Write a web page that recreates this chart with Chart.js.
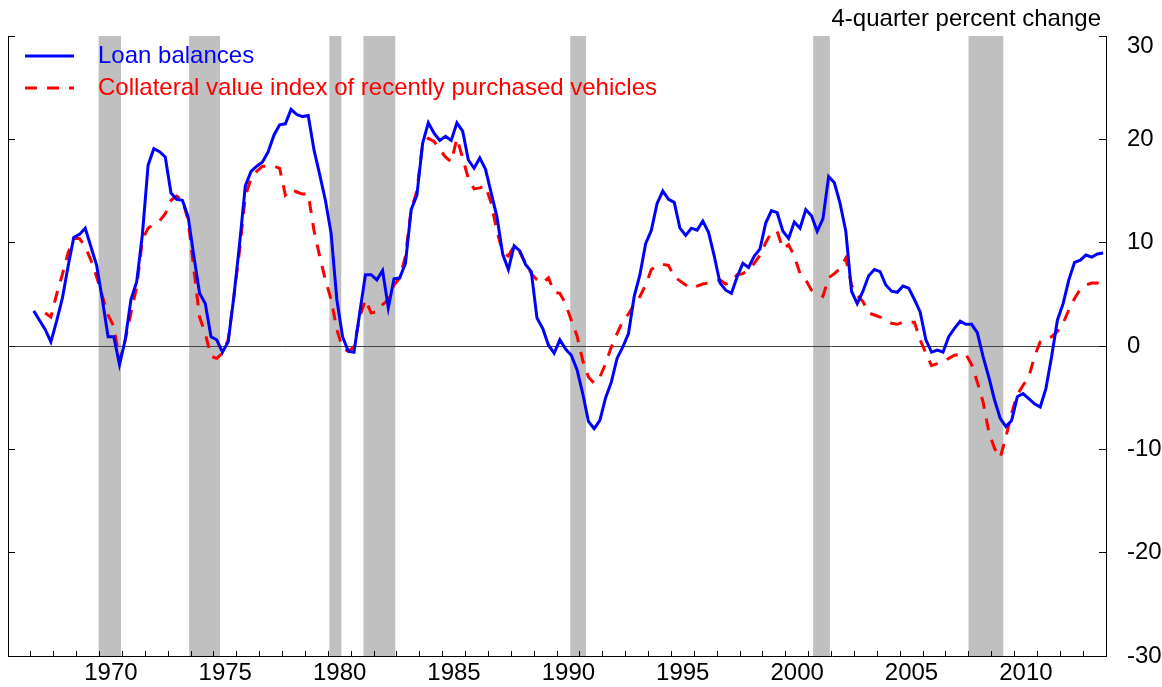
<!DOCTYPE html>
<html>
<head>
<meta charset="utf-8">
<title>Loan balances and collateral value</title>
<script src="https://cdn.jsdelivr.net/npm/chart.js@4/dist/chart.umd.min.js"></script>
<style>
  html, body { margin: 0; padding: 0; background: #fff; }
  #wrap { width: 1162px; height: 687px; }
</style>
</head>
<body>
<div id="wrap"><canvas id="chart" width="1162" height="687"></canvas></div>
<script>
'use strict';

// quarterly data, 1967Q1 - 2013Q4
var firstYear = 1967;

var loanBalances = [
    3.4, 2.5, 1.6, 0.4,      // 1967
    2.4, 4.6, 7.7, 10.5,     // 1968
    10.8, 11.4, 9.6, 7.8,    // 1969
    4.5, 0.9, 0.9, -1.8,     // 1970
    0.6, 4.5, 6.2, 10.8,     // 1971
    17.5, 19.1, 18.8, 18.3,  // 1972
    14.8, 14.2, 14.1, 12.5,  // 1973
    8.7, 5.1, 4.1, 0.9,      // 1974
    0.6, -0.6, 0.4, 4.8,     // 1975
    9.9, 15.5, 16.9, 17.4,   // 1976
    17.8, 18.8, 20.4, 21.4,  // 1977
    21.5, 22.9, 22.4, 22.2,  // 1978
    22.3, 19.0, 16.6, 14.1,  // 1979
    10.9, 4.5, 0.9, -0.5,    // 1980
    -0.6, 3.2, 6.9, 6.9,     // 1981
    6.4, 7.3, 3.7, 6.5,      // 1982
    6.6, 8.0, 13.2, 14.6,    // 1983
    19.6, 21.6, 20.6, 19.9,  // 1984
    20.3, 19.9, 21.6, 20.8,  // 1985
    18.0, 17.2, 18.2, 17.1,  // 1986
    14.8, 12.5, 8.9, 7.4,    // 1987
    9.7, 9.2, 7.9, 7.2,      // 1988
    2.7, 1.7, 0.1, -0.7,     // 1989
    0.6, -0.3, -0.9, -2.3,   // 1990
    -4.6, -7.3, -8.0, -7.2,  // 1991
    -5.0, -3.5, -1.2, -0.1,  // 1992
    1.2, 4.8, 6.9, 9.9,      // 1993
    11.2, 13.8, 15.0, 14.2,  // 1994
    13.9, 11.4, 10.7, 11.4,  // 1995
    11.2, 12.1, 11.0, 8.7,   // 1996
    6.1, 5.4, 5.1, 6.7,      // 1997
    8.0, 7.6, 8.7, 9.4,      // 1998
    11.9, 13.1, 12.9, 11.1,  // 1999
    10.4, 12.0, 11.4, 13.2,  // 2000
    12.6, 11.1, 12.3, 16.4,  // 2001
    15.8, 13.8, 11.1, 5.3,   // 2002
    4.1, 5.3, 6.8, 7.4,      // 2003
    7.2, 5.9, 5.3, 5.2,      // 2004
    5.8, 5.6, 4.5, 3.3,      // 2005
    0.6, -0.6, -0.4, -0.6,   // 2006
    0.9, 1.7, 2.4, 2.1,      // 2007
    2.1, 1.3, -1.0, -3.0,    // 2008
    -5.2, -7.0, -7.8, -7.2,  // 2009
    -4.9, -4.6, -5.1, -5.6,  // 2010
    -5.9, -4.1, -1.0, 2.5,   // 2011
    4.1, 6.4, 8.1, 8.3,      // 2012
    8.8, 8.6, 8.9, 9.0       // 2013
];

var collateralIndex = [
    null, null, 3.2, 2.8,    // 1967
    5.0, 6.9, 9.0, 10.4,     // 1968
    10.4, 9.6, 8.3, 6.7,     // 1969
    4.8, 3.0, 1.9, -1.4,     // 1970
    0.6, 3.2, 5.7, 10.3,     // 1971
    11.4, 11.8, 12.1, 12.8,  // 1972
    14.1, 14.5, 14.1, 12.2,  // 1973
    7.4, 2.8, 1.2, -1.0,     // 1974
    -1.2, -0.7, 0.6, 4.8,    // 1975
    9.3, 14.5, 16.2, 16.9,   // 1976
    17.4, 17.4, 17.4, 17.2,  // 1977
    14.6, 15.2, 14.9, 14.7,  // 1978
    14.7, 11.2, 8.7, 6.4,    // 1979
    4.5, 1.6, -0.2, -0.5,    // 1980
    -0.1, 2.8, 4.5, 3.2,     // 1981
    3.3, 4.0, 4.5, 5.9,      // 1982
    6.6, 8.7, 13.2, 15.0,    // 1983
    19.6, 20.1, 19.8, 19.0,  // 1984
    18.3, 17.8, 20.1, 18.2,  // 1985
    16.2, 15.2, 15.3, 15.5,  // 1986
    13.8, 11.1, 9.1, 8.7,    // 1987
    9.7, 9.1, 8.0, 7.0,      // 1988
    6.4, 6.1, 6.6, 5.2,      // 1989
    5.1, 4.1, 2.5, 1.0,      // 1990
    -1.4, -3.0, -3.6, -3.0,  // 1991
    -1.7, -0.1, 1.2, 2.4,    // 1992
    3.1, 4.0, 4.8, 5.9,      // 1993
    7.4, 7.8, 7.9, 7.8,      // 1994
    6.7, 6.3, 5.9, 5.6,      // 1995
    5.8, 6.0, 6.1, 6.2,      // 1996
    6.4, 6.0, 6.2, 6.9,      // 1997
    7.0, 7.4, 8.0, 8.8,      // 1998
    10.0, 11.0, 11.1, 9.4,   // 1999
    9.8, 8.7, 7.0, 6.4,      // 2000
    5.4, 5.1, 4.8, 6.6,      // 2001
    7.0, 7.5, 8.5, 5.9,      // 2002
    4.9, 4.3, 3.2, 3.0,      // 2003
    2.8, 2.5, 2.2, 2.1,      // 2004
    2.3, 2.3, 2.3, 0.6,      // 2005
    -0.7, -1.9, -1.7, -1.5,  // 2006
    -1.2, -0.9, -0.8, -0.8,  // 2007
    -1.8, -3.5, -5.4, -8.3,  // 2008
    -9.9, -10.8, -8.8, -6.5, // 2009
    -4.7, -3.8, -3.0, -1.0,  // 2010
    0.4, 0.7, 0.9, 1.4,      // 2011
    2.2, 3.5, 4.6, 5.5,      // 2012
    5.9, 6.1, 6.1, 5.8       // 2013
];

// NBER recessions (shaded), decimal years
var recessionStart = [1969.96, 1973.92, 1980.05, 1981.54, 1990.58, 2001.2, 2007.99];
var recessionEnd   = [1970.94, 1975.27, 1980.57, 1982.93, 1991.27, 2001.93, 2009.51];

var seriesNames = ['Loan balances', 'Collateral value index of recently purchased vehicles'];
var unitsLabel = '4-quarter percent change';

// quarter midpoints
function toPoints(values) {
    return values.map(function(v, i) {
        return { x: firstYear + (i + 0.5) / 4, y: v };
    });
}

// keep label overhang from pushing the plot area around
function noPadding(scale) {
    scale.paddingTop = 0;
    scale.paddingBottom = 0;
    scale.paddingLeft = 0;
    scale.paddingRight = 0;
}

var fontFamily = '"Liberation Sans", Arial, sans-serif';
Chart.defaults.font.family = fontFamily;
Chart.defaults.font.size = 24;
Chart.defaults.color = '#000';

var recessionShading = {
    id: 'recessionShading',
    beforeDraw: function(chart) {
        var ctx = chart.ctx, area = chart.chartArea, xs = chart.scales.x;
        ctx.save();
        ctx.fillStyle = '#c0c0c0';
        recessionStart.forEach(function(start, i) {
            var x1 = xs.getPixelForValue(start);
            var x2 = xs.getPixelForValue(recessionEnd[i]);
            ctx.fillRect(x1, area.top, x2 - x1, area.bottom - area.top);
        });
        ctx.restore();
    }
};

var labelsInside = {
    id: 'labelsInside',
    afterDatasetsDraw: function(chart) {
        var ctx = chart.ctx, area = chart.chartArea;
        ctx.save();
        ctx.font = '24px ' + fontFamily;
        ctx.textBaseline = 'middle';
        chart.data.datasets.forEach(function(ds, i) {
            var y = area.top + 20 + i * 32;
            ctx.strokeStyle = ds.borderColor;
            ctx.lineWidth = ds.borderWidth;
            ctx.setLineDash(ds.borderDash || []);
            ctx.beginPath();
            ctx.moveTo(area.left + 17, y);
            ctx.lineTo(area.left + 66, y);
            ctx.stroke();
            ctx.fillStyle = ds.borderColor;
            ctx.fillText(ds.label, area.left + 90, y);
        });
        // units note, top right
        ctx.fillStyle = '#000';
        ctx.textAlign = 'right';
        ctx.fillText(unitsLabel, area.right - 5, 19);
        ctx.restore();
    }
};

var chart = new Chart(document.getElementById('chart'), {
    type: 'line',
    data: {
        datasets: [{
            label: seriesNames[0],
            data: toPoints(loanBalances),
            borderColor: '#0000ff',
            borderWidth: 3,
            pointRadius: 0,
            tension: 0,
            order: 1
        }, {
            label: seriesNames[1],
            data: toPoints(collateralIndex),
            borderColor: '#ff0000',
            borderWidth: 3,
            borderDash: [12, 10],
            pointRadius: 0,
            tension: 0,
            order: 2
        }]
    },
    options: {
        responsive: false,
        animation: false,
        devicePixelRatio: 1,
        layout: { padding: { left: 0, top: 36, right: 0, bottom: 0 } },
        plugins: {
            legend: { display: false },
            title: { display: false },
            tooltip: { enabled: false }
        },
        scales: {
            x: {
                type: 'linear',
                min: 1966,
                max: 2014,
                afterFit: function(scale) { scale.height = 31; noPadding(scale); },
                border: { display: true, color: '#000', width: 1 },
                grid: { drawOnChartArea: false, drawTicks: true, tickLength: -5, tickColor: '#000' },
                ticks: {
                    stepSize: 1,
                    autoSkip: false,
                    maxRotation: 0,
                    padding: 8,
                    labelOffset: 11.4,
                    color: '#000',
                    callback: function(v) { return (v % 5 === 0) ? String(v) : ''; }
                }
            },
            y: {
                type: 'linear',
                position: 'right',
                min: -30,
                max: 30,
                afterFit: function(scale) { scale.width = 56; noPadding(scale); },
                border: { display: true, color: '#000', width: 1 },
                grid: {
                    drawOnChartArea: true,
                    drawTicks: true,
                    tickLength: -7,
                    tickColor: '#000',
                    lineWidth: 1,
                    color: function(c) {
                        return (c.tick && c.tick.value === 0) ? '#444' : 'rgba(0,0,0,0)';
                    }
                },
                ticks: {
                    stepSize: 10,
                    padding: 28,
                    crossAlign: 'near',
                    font: { size: 24, lineHeight: 0.9 },
                    color: '#000',
                    // top label sits just below the 30 tick, as in the original
                    callback: function(v) { return v === 30 ? ['', '30'] : String(v); }
                }
            },
            yLeft: {
                type: 'linear',
                position: 'left',
                min: -30,
                max: 30,
                afterFit: function(scale) { scale.width = 8; noPadding(scale); },
                border: { display: true, color: '#000', width: 1 },
                grid: { drawOnChartArea: false, drawTicks: true, tickLength: -7, tickColor: '#000' },
                ticks: { stepSize: 10, display: false }
            }
        }
    },
    plugins: [recessionShading, labelsInside]
});
</script>
</body>
</html>
